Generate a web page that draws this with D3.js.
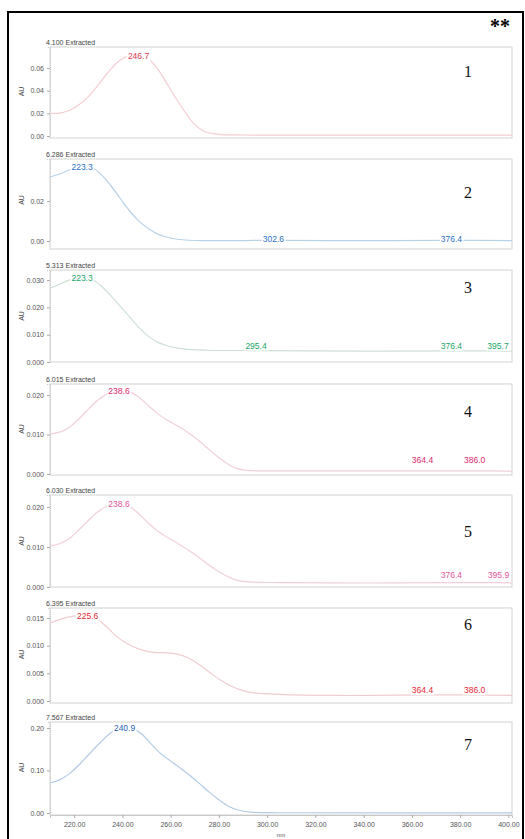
<!DOCTYPE html>
<html>
<head>
<meta charset="utf-8">
<script src="https://cdn.jsdelivr.net/npm/d3@7"></script>
<style>
  body { margin: 0; background: #fff; }
  svg { display: block; }
</style>
</head>
<body>
<svg id="chart" width="525" height="839"></svg>
<script>
// Extracted UV spectra (AU vs nm), one per chromatographic peak, labelled by retention time.
const retentionTimes = ["4.100", "6.286", "5.313", "6.015", "6.030", "6.395", "7.567"];
const panelNumbers = ["1", "2", "3", "4", "5", "6", "7"];

// [wavelength nm, absorbance AU]
const spectrum1 = [[210,0.020],[214,0.0202],[218,0.0225],[222,0.0275],[226,0.035],[230,0.045],[234,0.056],[238,0.065],[242,0.0703],[246.7,0.0715],[250,0.069],[254,0.061],[258,0.048],[262,0.034],[266,0.021],[270,0.010],[274,0.004],[280,0.0015],[290,0.0009],[320,0.0008],[360,0.0008],[401.5,0.0008]];
const spectrum2 = [[210,0.032],[214,0.0335],[218,0.0355],[223.3,0.0375],[227,0.037],[231,0.0335],[235,0.028],[239,0.0215],[243,0.015],[247,0.0098],[251,0.006],[255,0.0033],[260,0.0015],[266,0.0005],[275,0.0002],[302.6,0.0003],[340,0.0002],[376.4,0.0003],[401.5,0.0002]];
const spectrum3 = [[210,0.027],[214,0.0285],[218,0.030],[223.3,0.0313],[227,0.0305],[231,0.028],[235,0.0245],[239,0.0205],[243,0.0165],[247,0.0125],[251,0.0093],[255,0.0071],[260,0.0056],[266,0.0047],[275,0.0043],[295.4,0.0042],[340,0.004],[376.4,0.0041],[395.7,0.0041],[401.5,0.004]];
const spectrum4 = [[210,0.0101],[214,0.0106],[218,0.0118],[222,0.0140],[226,0.0165],[230,0.0188],[234,0.0204],[238.6,0.0212],[243,0.0208],[247,0.0194],[251,0.0172],[255,0.0151],[259,0.0135],[263,0.0121],[267,0.0106],[271,0.0088],[275,0.0067],[279,0.0046],[283,0.0028],[287,0.0015],[292,0.0009],[300,0.0008],[364.4,0.0008],[386,0.0008],[401.5,0.0007]];
const spectrum5 = [[210,0.0103],[214,0.0108],[218,0.0121],[222,0.0143],[226,0.0167],[230,0.0189],[234,0.0203],[238.6,0.0209],[243,0.0201],[247,0.0182],[251,0.0158],[255,0.0138],[259,0.0123],[263,0.0109],[267,0.0094],[271,0.0077],[275,0.0059],[279,0.0042],[283,0.0028],[287,0.0018],[292,0.0013],[305,0.0011],[340,0.001],[376.4,0.0011],[395.9,0.0011],[401.5,0.001]];
const spectrum6 = [[210,0.0141],[214,0.0147],[218,0.0152],[225.6,0.0155],[229,0.0150],[233,0.0136],[237,0.0119],[241,0.0106],[245,0.0097],[249,0.0091],[253,0.0088],[257,0.0087],[261,0.0086],[265,0.0082],[269,0.0074],[273,0.0062],[277,0.0049],[281,0.0037],[285,0.0027],[289,0.0020],[294,0.0015],[305,0.0012],[330,0.001],[364.4,0.0011],[386,0.0011],[401.5,0.001]];
const spectrum7 = [[210,0.0706],[214,0.078],[218,0.092],[222,0.113],[226,0.137],[230,0.161],[234,0.183],[237.5,0.197],[240.9,0.202],[244,0.199],[248,0.186],[252,0.162],[256,0.139],[260,0.122],[264,0.106],[268,0.088],[272,0.069],[276,0.049],[280,0.031],[284,0.016],[288,0.007],[293,0.002],[305,0.0006],[401.5,0.0005]];

// Wavelengths of the labelled maxima in each spectrum
const peaks1 = [246.7];
const peaks2 = [223.3, 302.6, 376.4];
const peaks3 = [223.3, 295.4, 376.4, 395.7];
const peaks4 = [238.6, 364.4, 386.0];
const peaks5 = [238.6, 376.4, 395.9];
const peaks6 = [225.6, 364.4, 386.0];
const peaks7 = [240.9];

// Absorbance axis ticks and ranges
const yTicks1 = [0, 0.02, 0.04, 0.06];
const yTicks2 = [0, 0.02];
const yTicks3 = [0, 0.01, 0.02, 0.03];
const yTicks4 = [0, 0.01, 0.02];
const yTicks5 = [0, 0.01, 0.02];
const yTicks6 = [0, 0.005, 0.010, 0.015];
const yTicks7 = [0, 0.10, 0.20];
const yFormats = [".2f", ".2f", ".3f", ".3f", ".3f", ".3f", ".2f"];
const yMax = [0.0785, 0.041, 0.0337, 0.0228, 0.023, 0.0168, 0.214];

const xTicks = [220, 240, 260, 280, 300, 320, 340, 360, 380, 400];
const xDomain = [210, 401.5];

// Styling
const lineColors  = ["#f4cdd2", "#b9d2e6", "#cfe0d6", "#f0d0da", "#f0d0dc", "#f0ccd0", "#b2cbe5"];
const labelColors = ["#e23a4c", "#2a70c4", "#21a565", "#d6286e", "#e25596", "#e2262f", "#2a64b4"];

// Layout of the stacked panels
const panelTop    = [47, 159, 270, 384, 495, 608, 722];
const panelZero   = [136, 241, 362, 474, 587, 701, 813];
const panelBottom = [138, 249, 362, 475, 587, 703, 815];
const numberY     = [77, 198, 293, 417, 537, 630, 750];
const labelLift   = [0, 1, 5, 11, 8, 5, 0];

const spectra = [spectrum1, spectrum2, spectrum3, spectrum4, spectrum5, spectrum6, spectrum7];
const peaks   = [peaks1, peaks2, peaks3, peaks4, peaks5, peaks6, peaks7];
const yTicks  = [yTicks1, yTicks2, yTicks3, yTicks4, yTicks5, yTicks6, yTicks7];

const sans = "Liberation Sans Narrow, Liberation Sans, Arial, sans-serif";
const svg = d3.select("#chart");
const plotLeft = 50, plotRight = 512;
const x = d3.scaleLinear().domain(xDomain).range([plotLeft, plotRight]);

// Outer frame
svg.append("rect")
  .attr("x", 8).attr("y", 12).attr("width", 515).attr("height", 832)
  .attr("fill", "none").attr("stroke", "#000").attr("stroke-width", 2);

svg.append("text")
  .attr("x", 500).attr("y", 33)
  .attr("text-anchor", "middle")
  .attr("font-family", "Liberation Serif, serif")
  .attr("font-size", 20).attr("font-weight", "bold")
  .text("**");

function valueAt(data, w) {
  for (let k = 0; k < data.length - 1; k++) {
    const a = data[k], b = data[k + 1];
    if (w >= a[0] && w <= b[0]) return a[1] + (b[1] - a[1]) * (w - a[0]) / (b[0] - a[0]);
  }
  return data[data.length - 1][1];
}

spectra.forEach((data, i) => {
  const y = d3.scaleLinear().domain([0, yMax[i]]).range([panelZero[i], panelTop[i]]);
  const g = svg.append("g");

  // plot box
  g.append("rect")
    .attr("x", plotLeft).attr("y", panelTop[i])
    .attr("width", plotRight - plotLeft).attr("height", panelBottom[i] - panelTop[i])
    .attr("fill", "none").attr("stroke", "#d2d2d2").attr("stroke-width", 1);

  // absorbance axis
  const yAxis = d3.axisLeft(y).tickValues(yTicks[i]).tickFormat(d3.format(yFormats[i])).tickSize(3).tickPadding(3);
  const ya = g.append("g").attr("transform", `translate(${plotLeft},0)`).call(yAxis);
  ya.select(".domain").attr("stroke", "#c8c8c8").attr("stroke-dasharray", "1,1");
  ya.selectAll(".tick line").attr("stroke", "#aaa");
  ya.selectAll(".tick text").attr("fill", "#555").attr("font-size", 7).attr("font-family", sans);

  g.append("text")
    .attr("transform", `translate(22,${(panelTop[i] + panelZero[i]) / 2}) rotate(-90)`)
    .attr("text-anchor", "middle").attr("dy", "0.35em")
    .attr("font-size", 7).attr("fill", "#444").attr("font-family", sans)
    .text("AU");

  // retention time title
  g.append("text")
    .attr("x", 46).attr("y", panelTop[i] - 2)
    .attr("font-size", 7).attr("fill", "#444").attr("font-family", sans)
    .text(`${retentionTimes[i]} Extracted`);

  // spectrum trace
  const line = d3.line().x(d => x(d[0])).y(d => y(d[1])).curve(d3.curveCatmullRom.alpha(0.5));
  g.append("path").datum(data)
    .attr("d", line)
    .attr("fill", "none").attr("stroke", lineColors[i]).attr("stroke-width", 1.2);

  // peak wavelength labels
  peaks[i].forEach((w, j) => {
    const cy = y(valueAt(data, w)) - (j === 0 && w < 260 ? -1 : labelLift[i]);
    const t = g.append("text")
      .attr("x", x(w)).attr("y", cy).attr("dy", "0.35em")
      .attr("text-anchor", "middle")
      .attr("font-size", 8.5).attr("fill", labelColors[i]).attr("font-family", sans)
      .text(w.toFixed(1));
    const bb = t.node().getBBox();
    g.insert("rect", () => t.node())
      .attr("x", bb.x - 1).attr("y", bb.y).attr("width", bb.width + 2).attr("height", bb.height)
      .attr("fill", "#fff");
  });

  // panel number
  g.append("text")
    .attr("x", 468).attr("y", numberY[i])
    .attr("text-anchor", "middle")
    .attr("font-family", "Liberation Serif, serif")
    .attr("font-size", 16).attr("fill", "#111")
    .text(panelNumbers[i]);

  // wavelength axis on the last panel
  if (i === spectra.length - 1) {
    const xAxis = d3.axisBottom(x).tickValues(xTicks).tickFormat(d3.format(".2f")).tickSize(3).tickPadding(4);
    const xa = g.append("g").attr("transform", `translate(0,${panelBottom[i]})`).call(xAxis);
    xa.select(".domain").attr("stroke", "#c8c8c8");
    xa.selectAll(".tick line").attr("stroke", "#aaa");
    xa.selectAll(".tick text").attr("fill", "#555").attr("font-size", 7).attr("font-family", sans);
    g.append("text")
      .attr("x", (plotLeft + plotRight) / 2).attr("y", 837)
      .attr("text-anchor", "middle")
      .attr("font-size", 6).attr("fill", "#555").attr("font-family", sans)
      .text("nm");
  }
});
</script>
</body>
</html>
